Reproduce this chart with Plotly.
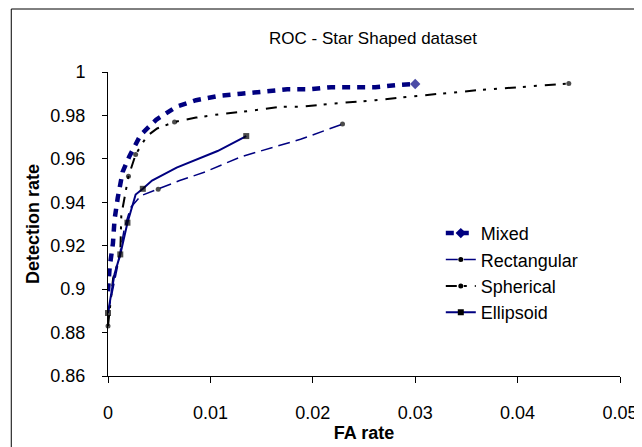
import plotly.graph_objects as go

# ---- data ----
mixed_x = [0, 0.00016, 0.00048, 0.00064, 0.00095, 0.00143, 0.00207, 0.00318, 0.0047,
           0.00668, 0.0086, 0.0108, 0.013, 0.0153, 0.0175, 0.0196, 0.0218, 0.0239,
           0.0261, 0.0282, 0.030]
mixed_y = [0.899, 0.910, 0.921, 0.932, 0.942, 0.954, 0.961, 0.971, 0.978,
           0.984, 0.987, 0.989, 0.990, 0.991, 0.992, 0.992, 0.993, 0.993,
           0.993, 0.994, 0.9945]

rect_x = [0, 0.00095, 0.0016, 0.0022, 0.0032, 0.0049, 0.0070, 0.0095, 0.0130, 0.0188, 0.0229]
rect_y = [0.889, 0.911, 0.928, 0.9375, 0.943, 0.946, 0.950, 0.954, 0.961, 0.969, 0.976]

sph_x = [0, 0.0005, 0.0012, 0.0013, 0.0020, 0.0027, 0.0038, 0.0048, 0.0065, 0.0086,
         0.0108, 0.0137, 0.0169, 0.0188, 0.0220, 0.0261, 0.0302, 0.0363, 0.0401, 0.045]
sph_y = [0.883, 0.905, 0.916, 0.934, 0.952, 0.962, 0.9705, 0.974, 0.977, 0.979,
         0.9805, 0.982, 0.984, 0.984, 0.9855, 0.987, 0.989, 0.9917, 0.993, 0.9947]

ell_x = [0, 0.00064, 0.0012, 0.0019, 0.0027, 0.0034, 0.0043, 0.0067, 0.0107, 0.0135]
ell_y = [0.889, 0.907, 0.916, 0.9306, 0.9436, 0.9462, 0.950, 0.956, 0.9636, 0.9705]

series_names = ["Mixed", "Rectangular", "Spherical", "Ellipsoid"]
x_ticks = [0, 0.01, 0.02, 0.03, 0.04, 0.05]
x_tick_labels = ["0", "0.01", "0.02", "0.03", "0.04", "0.05"]
y_ticks = [0.86, 0.88, 0.9, 0.92, 0.94, 0.96, 0.98, 1]
y_tick_labels = ["0.86", "0.88", "0.9", "0.92", "0.94", "0.96", "0.98", "1"]

# ---- styles (which points show a marker) ----
mixed_marked = [len(mixed_x) - 1]
rect_marked = [5, len(rect_x) - 1]
sph_marked = [0, 4, 5, 8, len(sph_x) - 1]
ell_marked = [0, 2, 3, 5, len(ell_x) - 1]

NAVY = "#000080"
styles = [
    dict(color=NAVY, width=4.5, dash="8px,7px", symbol="diamond", msize=8, mcolor=NAVY),
    dict(color=NAVY, width=1.5, dash="12px,6px", symbol="circle", msize=5, mcolor="black"),
    dict(color="black", width=2, dash="11px,7px,3px,8px,3px,8px", symbol="circle", msize=5, mcolor="black"),
    dict(color=NAVY, width=2, dash="solid", symbol="square", msize=6, mcolor="black"),
]
data = [(mixed_x, mixed_y, mixed_marked), (rect_x, rect_y, rect_marked),
        (sph_x, sph_y, sph_marked), (ell_x, ell_y, ell_marked)]

fig = go.Figure()
for name, (xs, ys, marked), st in zip(series_names, data, styles):
    sizes = [st["msize"] if i in marked else 0 for i in range(len(xs))]
    fig.add_trace(go.Scatter(
        x=xs, y=ys, mode="lines+markers", name=name, showlegend=False,
        line=dict(color=st["color"], width=st["width"], dash=st["dash"]),
        marker=dict(symbol=st["symbol"], size=sizes, color=st["mcolor"], line=dict(width=0)),
        cliponaxis=False,
    ))
    fig.add_trace(go.Scatter(
        x=[None], y=[None], mode="lines+markers", name=name,
        line=dict(color=st["color"], width=st["width"], dash=st["dash"]),
        marker=dict(symbol=st["symbol"], size=st["msize"], color=st["mcolor"]),
    ))

font_family = "Liberation Sans, Arial, sans-serif"
fig.update_layout(
    width=642, height=447,
    margin=dict(l=100, r=18, t=64, b=79),
    paper_bgcolor="white", plot_bgcolor="white",
    font=dict(family=font_family, color="black", size=18),
    title=dict(text="ROC - Star Shaped dataset", x=365 / 642, xanchor="center",
               y=1 - 30 / 447, yanchor="middle", font=dict(size=17)),
    xaxis=dict(range=[0, 0.05], tickvals=x_ticks, ticktext=x_tick_labels,
               showgrid=False, zeroline=False, showline=True, linecolor="black",
               linewidth=1, ticks="outside", ticklen=6, tickcolor="black",
               tickfont=dict(size=18), ticklabelstandoff=14,
               title=dict(text="<b>FA rate</b>", font=dict(size=18), standoff=4)),
    yaxis=dict(range=[0.86, 1], tickvals=y_ticks, ticktext=y_tick_labels,
               showgrid=False, zeroline=False, showline=True, linecolor="black",
               linewidth=1, ticks="outside", ticklen=5, tickcolor="black",
               tickfont=dict(size=18), ticklabelstandoff=13,
               title=dict(text="<b>Detection rate</b>", font=dict(size=18), standoff=6)),
    legend=dict(x=0.65, y=0.53, xanchor="left", yanchor="top",
                font=dict(size=18), bgcolor="rgba(0,0,0,0)", tracegroupgap=0),
)

# outer frame of the chart
fig.add_shape(type="rect", xref="paper", yref="paper",
              x0=(1 - 100) / 524, x1=(640 - 100) / 524,
              y0=(368 - 445) / 304, y1=(368 - 1) / 304,
              line=dict(color="black", width=1), layer="below")

fig.write_html("out.html")
